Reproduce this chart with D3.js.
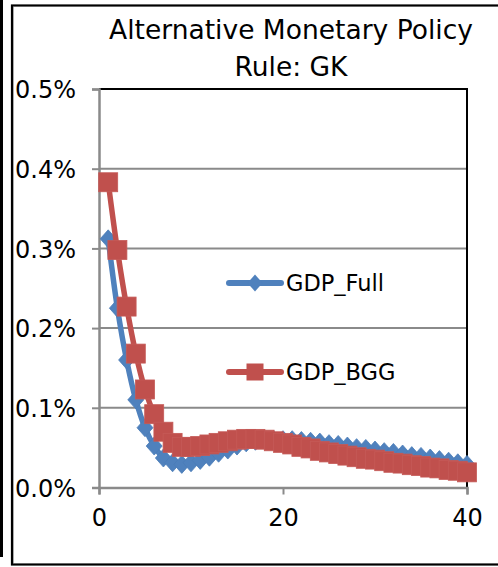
<!DOCTYPE html>
<html>
<head>
<meta charset="utf-8">
<script src="https://cdn.jsdelivr.net/npm/d3@7"></script>
<style>
  html, body { margin: 0; padding: 0; background: #fff; }
  svg { display: block; }
  text { font-family: "DejaVu Sans", sans-serif; fill: #000; }
</style>
</head>
<body>
<svg id="chart" width="498" height="567"></svg>
<script>
// ---- Data ----
const periods = d3.range(1, 41);
const gdpFull = [0.312, 0.225, 0.160, 0.110, 0.075, 0.052, 0.037, 0.031, 0.029, 0.031,
                 0.034, 0.038, 0.043, 0.047, 0.052, 0.056, 0.058, 0.059, 0.060, 0.060,
                 0.060, 0.059, 0.058, 0.057, 0.055, 0.054, 0.052, 0.050, 0.049, 0.047,
                 0.045, 0.044, 0.042, 0.040, 0.039, 0.037, 0.035, 0.033, 0.031, 0.029];
const gdpBGG = [0.383, 0.298, 0.227, 0.168, 0.123, 0.092, 0.070, 0.056, 0.051, 0.051,
                0.052, 0.054, 0.056, 0.058, 0.060, 0.061, 0.061, 0.060, 0.058, 0.056,
                0.054, 0.051, 0.049, 0.046, 0.044, 0.042, 0.040, 0.038, 0.036, 0.035,
                0.033, 0.031, 0.030, 0.028, 0.027, 0.025, 0.024, 0.022, 0.021, 0.019];
const seriesNames = ["GDP_Full", "GDP_BGG"];
const yTicks = [0.0, 0.1, 0.2, 0.3, 0.4, 0.5];
const xTicks = [0, 20, 40];
const titleLines = ["Alternative Monetary Policy", "Rule: GK"];

// ---- Layout ----
const svg = d3.select("#chart");
const plot = { left: 99, right: 467, top: 89, bottom: 487.5 };
const x = d3.scaleLinear().domain([0, 40]).range([plot.left, plot.right]);
const y = d3.scaleLinear().domain([0, 0.5]).range([plot.bottom, plot.top]);

const blue = "#4F81BD", red = "#C0504D";

// outer frame
svg.append("line").attr("x1", 1.5).attr("x2", 1.5).attr("y1", 0).attr("y2", 557)
  .attr("stroke", "#000").attr("stroke-width", 3);
svg.append("rect").attr("x", 12).attr("y", 5.5).attr("width", 500).attr("height", 559)
  .attr("fill", "none").attr("stroke", "#000").attr("stroke-width", 2.2);
svg.append("line").attr("x1", 13.5).attr("x2", 13.5).attr("y1", 7).attr("y2", 563)
  .attr("stroke", "#aaa").attr("stroke-width", 1);

// title
svg.append("text").attr("x", 291).attr("y", 39).attr("text-anchor", "middle")
  .style("font-size", "26.5px").text(titleLines[0]);
svg.append("text").attr("x", 291).attr("y", 76).attr("text-anchor", "middle")
  .style("font-size", "26.5px").text(titleLines[1]);

// gridlines
svg.append("g").selectAll("line").data(yTicks.filter(d => d > 0 && d < 0.5)).join("line")
  .attr("x1", plot.left).attr("x2", plot.right)
  .attr("y1", d => y(d)).attr("y2", d => y(d))
  .attr("stroke", "#8a8a8a").attr("stroke-width", 2);

// plot border (top & right)
svg.append("path")
  .attr("d", `M${plot.left},${y(0.5)}H${plot.right}V${plot.bottom}`)
  .attr("fill", "none").attr("stroke", "#000").attr("stroke-width", 2);

// y axis
const yAxis = d3.axisLeft(y).tickValues(yTicks).tickSize(7).tickPadding(15)
  .tickFormat(d => d.toFixed(1) + "%");
const gy = svg.append("g").attr("transform", `translate(${plot.left},0)`).call(yAxis);
gy.select(".domain").attr("stroke", "#8a8a8a").attr("stroke-width", 2.5);
gy.selectAll(".tick line").attr("stroke", "#8a8a8a").attr("stroke-width", 2);
gy.selectAll(".tick text").style("font-size", "24px").attr("fill", "#000")
  .attr("x", -23).attr("dy", "0.36em");

// x axis
const xAxis = d3.axisBottom(x).tickValues(xTicks).tickSize(7).tickPadding(14)
  .tickFormat(d3.format("d"));
const gx = svg.append("g").attr("transform", `translate(0,${plot.bottom})`).call(xAxis);
gx.select(".domain").attr("stroke", "#8a8a8a").attr("stroke-width", 2.5);
gx.selectAll(".tick line").attr("stroke", "#8a8a8a").attr("stroke-width", 2);
gx.selectAll(".tick text").style("font-size", "24px").attr("fill", "#000");

// series
const line = d3.line().x((d, i) => x(periods[i])).y(d => y(d))
  .curve(d3.curveCatmullRom.alpha(0.5));

const diamond = (cx, cy, w, h) => `M${cx},${cy - h}L${cx + w},${cy}L${cx},${cy + h}L${cx - w},${cy}Z`;

function drawSeries(vals, color, kind) {
  const g = svg.append("g");
  g.append("path").datum(vals).attr("d", line)
    .attr("fill", "none").attr("stroke", color).attr("stroke-width", 5.5)
    .attr("stroke-linejoin", "round").attr("stroke-linecap", "round");
  if (kind === "diamond") {
    g.selectAll("path.m").data(vals).join("path").attr("class", "m")
      .attr("d", (d, i) => diamond(x(periods[i]), y(d), 8, 9))
      .attr("fill", color).attr("stroke", "#4a7cb8").attr("stroke-width", 0.8);
  } else {
    g.selectAll("rect.m").data(vals).join("rect").attr("class", "m")
      .attr("x", (d, i) => x(periods[i]) - 9.5).attr("y", d => y(d) - 9.5)
      .attr("width", 19).attr("height", 19)
      .attr("fill", color).attr("stroke", "#c55a57").attr("stroke-width", 0.8);
  }
}
drawSeries(gdpFull, blue, "diamond");
drawSeries(gdpBGG, red, "square");

// legend
const legend = [
  { name: seriesNames[0], color: blue, kind: "diamond", cy: 283 },
  { name: seriesNames[1], color: red, kind: "square", cy: 372 }
];
legend.forEach(l => {
  const g = svg.append("g");
  g.append("line").attr("x1", 229).attr("x2", 281).attr("y1", l.cy).attr("y2", l.cy)
    .attr("stroke", l.color).attr("stroke-width", 6).attr("stroke-linecap", "round");
  if (l.kind === "diamond") {
    g.append("path").attr("d", diamond(255, l.cy, 7.5, 8.5)).attr("fill", l.color);
  } else {
    g.append("rect").attr("x", 255 - 8.5).attr("y", l.cy - 8.5).attr("width", 17).attr("height", 17)
      .attr("fill", l.color);
  }
  g.append("text").attr("x", 286).attr("y", l.cy + 8).style("font-size", "22.5px").text(l.name);
});
</script>
</body>
</html>
